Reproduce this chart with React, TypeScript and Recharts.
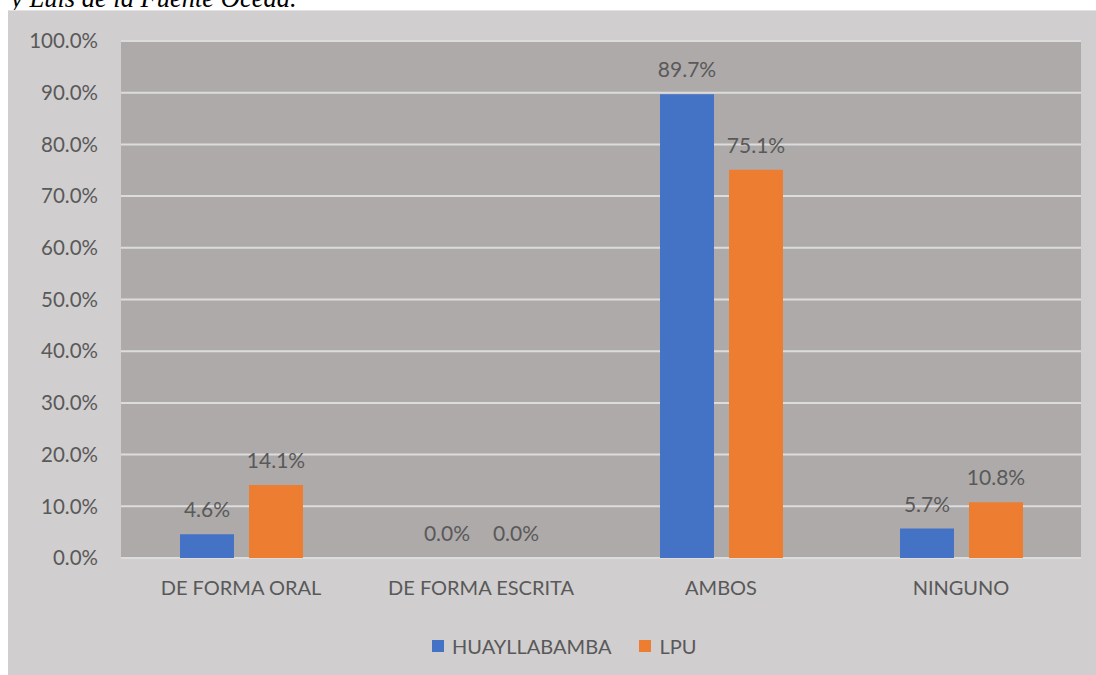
import React from "react";
import {
  BarChart,
  Bar,
  XAxis,
  YAxis,
  CartesianGrid,
  LabelList,
} from "recharts";

const categories = ["DE FORMA ORAL", "DE FORMA ESCRITA", "AMBOS", "NINGUNO"];
const huayllabamba = [4.6, 0.0, 89.7, 5.7];
const lpu = [14.1, 0.0, 75.1, 10.8];
const yTicks = [0, 10, 20, 30, 40, 50, 60, 70, 80, 90, 100];

const data = categories.map((name, i) => ({
  name,
  huayllabamba: huayllabamba[i],
  lpu: lpu[i],
}));

const FONT = "Lato, 'Noto Sans', sans-serif";
const TEXT = "#595959";
const BLUE = "#4472c4";
const ORANGE = "#ed7d31";

const pct = (v: unknown) => `${Number(v).toFixed(1)}%`;
const labelStyle = { fontSize: 21, fill: TEXT, fontFamily: FONT };

function LegendItem({ color, label }: { color: string; label: string }) {
  return (
    <span style={{ display: "inline-flex", alignItems: "center", marginRight: 28 }}>
      <span style={{ width: 12, height: 12, background: color, marginRight: 8 }} />
      <span>{label}</span>
    </span>
  );
}

export default function App() {
  return (
    <div style={{ position: "fixed", left: 0, top: 0, width: 1096, height: 675, background: "#fff", overflow: "hidden" }}>
      {/* caption from the document, cut off at the top */}
      <div
        style={{
          position: "absolute",
          left: 11,
          top: -15,
          fontFamily: "'Liberation Serif', 'DejaVu Serif', serif",
          fontStyle: "italic",
          fontSize: 26.5,
          lineHeight: "26.5px",
          color: "#000",
          whiteSpace: "nowrap",
        }}
      >
        y Luis de la Fuente Oceda.
      </div>
      <div
        style={{
          position: "absolute",
          left: 8,
          top: 10,
          width: 1088,
          height: 665,
          background: "#d0cecf",
          borderTop: "1px solid #e2e2e2",
          boxSizing: "border-box",
        }}
      >
        <BarChart
          width={1088}
          height={664}
          data={data}
          margin={{ top: 30, right: 15, left: 0, bottom: 67 }}
          barSize={54}
          barGap={15}
        >
          <CartesianGrid vertical={false} stroke="#dcdcdc" strokeWidth={2} fill="#aeaaaa" />
          <XAxis
            dataKey="name"
            axisLine={false}
            tickLine={false}
            tickSize={0}
            tickMargin={23}
            height={50}
            tick={{ fontSize: 20, fill: TEXT, fontFamily: FONT }}
          />
          <YAxis
            domain={[0, 100]}
            ticks={yTicks}
            width={113}
            axisLine={false}
            tickLine={false}
            tickSize={0}
            tickMargin={23}
            tickFormatter={pct}
            tick={{ fontSize: 20.5, fill: TEXT, fontFamily: FONT }}
          />
          <Bar dataKey="huayllabamba" name="HUAYLLABAMBA" fill={BLUE} minPointSize={0.01} isAnimationActive={false}>
            <LabelList dataKey="huayllabamba" position="top" offset={17} formatter={pct} style={labelStyle} />
          </Bar>
          <Bar dataKey="lpu" name="LPU" fill={ORANGE} minPointSize={0.01} isAnimationActive={false}>
            <LabelList dataKey="lpu" position="top" offset={17} formatter={pct} style={labelStyle} />
          </Bar>
        </BarChart>
        <div
          style={{
            position: "absolute",
            left: 424,
            top: 620,
            whiteSpace: "nowrap",
            fontFamily: FONT,
            fontSize: 20,
            color: TEXT,
            lineHeight: "26px",
          }}
        >
          <LegendItem color={BLUE} label="HUAYLLABAMBA" />
          <LegendItem color={ORANGE} label="LPU" />
        </div>
      </div>
    </div>
  );
}
